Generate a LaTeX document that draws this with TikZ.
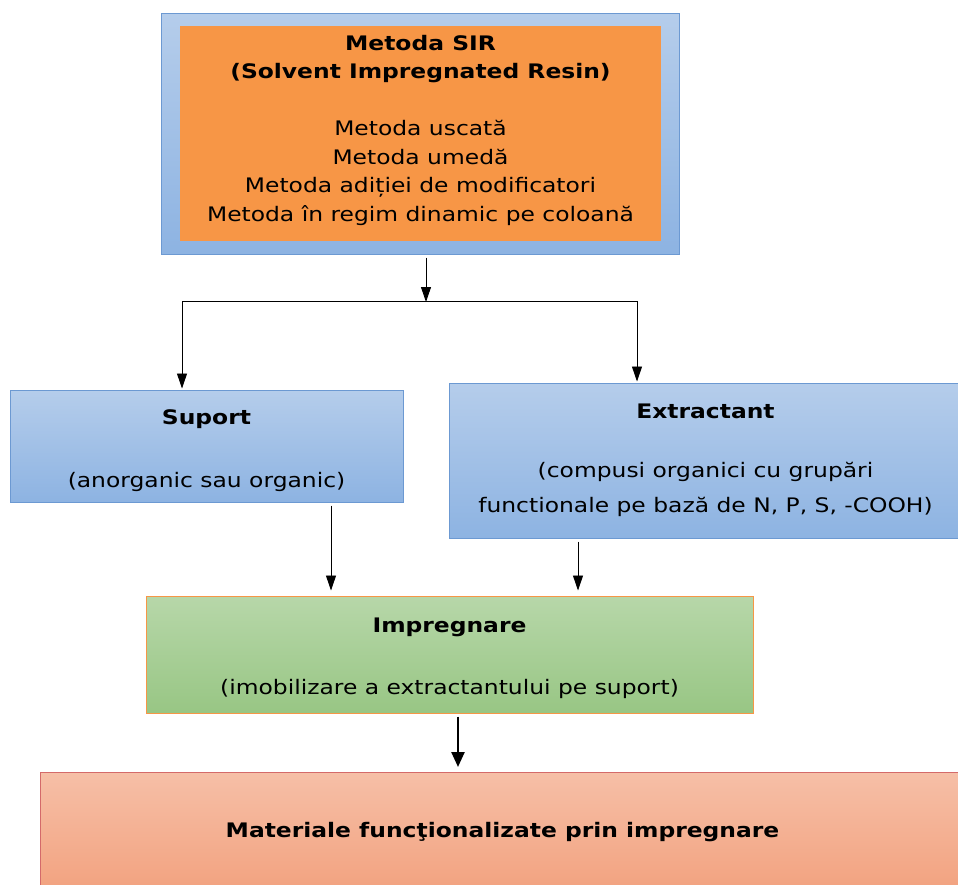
\documentclass[tikz,border=0pt]{standalone}
\usepackage{fontspec}
\setmainfont[FakeStretch=1.17]{DejaVu Sans}
\usepackage{tikz}
\usetikzlibrary{
  calc,
  arrows,
  arrows.meta
}
\definecolor{boxblueT}{HTML}{B5CDEB}
\definecolor{boxblueB}{HTML}{8DB3E2}
\definecolor{boxblueD}{HTML}{6C99D2}
\definecolor{sirorange}{HTML}{F79646}
\definecolor{boxgreenT}{HTML}{B7D7A9}
\definecolor{boxgreenB}{HTML}{98C684}
\definecolor{boxsalT}{HTML}{F6BFA7}
\definecolor{boxsalB}{HTML}{F2A27F}
\definecolor{boxsalD}{HTML}{D46A6A}

\tikzset{
  bluebox/.style = {draw=boxblueD, top color=boxblueT, bottom color=boxblueB,
    line width=1pt, inner sep=0pt, align=center},
  txt/.style = {font=\fontsize{20}{31.5}\selectfont},
  arr/.style = {-{Triangle[width=10pt,length=15pt]}, line width=0.9pt,
    shorten <=3pt, shorten >=5pt}
}

\begin{document}
\begin{tikzpicture}[x=1pt, y=-1pt]
    \clip (0,0) rectangle (958,884);
    \fill[white] (0,0) rectangle (958,884);

    \node[bluebox, minimum width=518pt, minimum height=241pt] (sir) at (420,133.5) {};
    \node[fill=sirorange, minimum width=481pt, minimum height=215pt] (sirin) at (420.5,133.5) {};
    \node[inner sep=0pt, align=center, font=\fontsize{20}{28.5}\selectfont] (sirtxt) at (420.5,130)
      {\textbf{Metoda SIR}\\ \textbf{(Solvent Impregnated Resin)}\\[28.5pt]
       Metoda uscată\\ Metoda umedă\\ Metoda adiției de modificatori\\
       Metoda în regim dinamic pe coloană};

    \node[bluebox, txt, minimum width=393pt, minimum height=112pt] (suport) at (206.5,446)
      {\rule{0pt}{24pt}\textbf{Suport}\\[31.5pt] (anorganic sau organic)};
    \node[bluebox, txt, minimum width=513pt, minimum height=155pt] (extr) at (705.5,460.5)
      {\textbf{Extractant}\\[27pt] (compusi organici cu grupări\\[3.5pt]
       functionale pe bază de N, P, S, -COOH)};
    \node[draw=sirorange, top color=boxgreenT, bottom color=boxgreenB, line width=1pt,
      inner sep=0pt, align=center, txt, minimum width=607pt, minimum height=117pt] (impr) at (449.5,654.5)
      {\rule{0pt}{22pt}\textbf{Impregnare}\\[31pt] (imobilizare a extractantului pe suport)};
    \node[draw=boxsalD, top color=boxsalT, bottom color=boxsalB, line width=1pt,
      inner sep=0pt, txt, minimum width=925pt, minimum height=119pt] (mat) at (502.5,832)
      {\textbf{Materiale funcţionalizate prin impregnare}};

    % ramificatie
    \coordinate (split) at (426,302);
    \coordinate (lft) at (182,301);
    \coordinate (rgt) at (637,301);
    \coordinate (a1) at (331,0);
    \coordinate (a2) at (578,0);
    \coordinate (a3) at (458,0);
    \draw[arr, shorten >=0pt] (split |- sir.south) -- (split);
    \draw[line width=0.9pt] (lft) -- (rgt);
    \draw[arr, shorten <=0pt, shorten >=1pt] (lft) -- (lft |- suport.north);
    \draw[arr, shorten <=0pt, shorten >=1pt] (rgt) -- (rgt |- extr.north);

    \draw[arr] (a1 |- suport.south) -- (a1 |- impr.north);
    \draw[arr] (a2 |- extr.south) -- (a2 |- impr.north);
    \draw[arr, line width=2.4pt, -{Triangle[width=13pt,length=15pt]}] (a3 |- impr.south) -- (a3 |- mat.north);
\end{tikzpicture}
\end{document}
